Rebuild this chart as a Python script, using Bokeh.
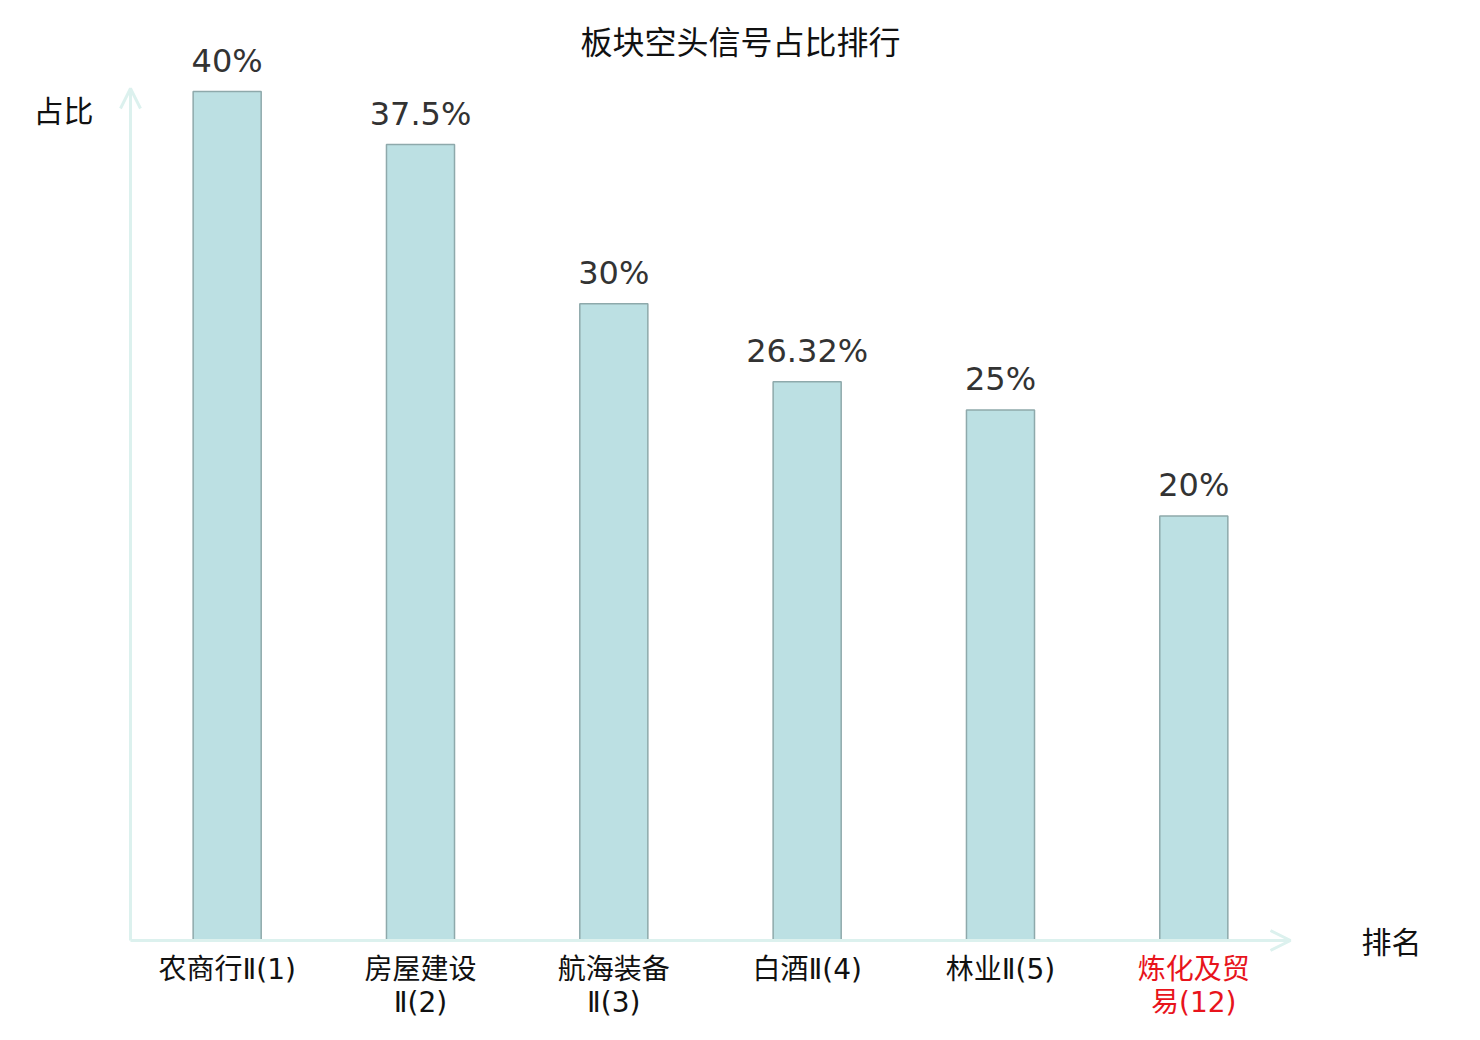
from bokeh.plotting import figure
from bokeh.models import Range1d, Arrow, OpenHead, ColumnDataSource
from bokeh.core.properties import value
from bokeh.embed import file_html
from bokeh.resources import INLINE
import numpy as np

categories = ["农商行Ⅱ(1)", "房屋建设\nⅡ(2)", "航海装备\nⅡ(3)", "白酒Ⅱ(4)", "林业Ⅱ(5)", "炼化及贸\n易(12)"]
values = [40, 37.5, 30, 26.32, 25, 20]
value_labels = ["40%", "37.5%", "30%", "26.32%", "25%", "20%"]
label_colors = ["#111111", "#111111", "#111111", "#111111", "#111111", "#e8141c"]
title_text = "板块空头信号占比排行"
y_name = "占比"
x_name = "排名"

W, H = 1464, 1024
# layout: category axis origin at page x=130, 193.33 px per category; value 0 at page y=940, 21.225 px per %
PX_U = 193.33
PX_V = 21.225
def ux(px):
    return (px - 130) / PX_U
def vy(py):
    return (940 - py) / PX_V

FONT = "DejaVu Sans, Noto Sans CJK SC, sans-serif"

p = figure(width=W, height=H, output_backend="svg", toolbar_location=None,
           x_range=Range1d(ux(0), ux(W)), y_range=Range1d(vy(H), vy(0)),
           x_axis_location=None, y_axis_location=None, min_border=0)
p.outline_line_color = None
p.xgrid.visible = False
p.ygrid.visible = False
p.background_fill_color = "white"

xs = np.arange(len(categories)) + 0.5
src = ColumnDataSource(dict(x=xs, top=values, vl=value_labels, cat=categories, col=label_colors,
                            zero=[0] * len(values)))

# axes with arrows
axis_color = "#dcf1ee"
p.add_layout(Arrow(end=OpenHead(size=20, line_color=axis_color, line_width=3),
                   x_start=0, y_start=0, x_end=0, y_end=vy(88),
                   line_color=axis_color, line_width=3))
p.add_layout(Arrow(end=OpenHead(size=20, line_color=axis_color, line_width=3),
                   x_start=0, y_start=0, x_end=ux(1290), y_end=0,
                   line_color=axis_color, line_width=3))

p.vbar(x="x", top="top", bottom=0, width=0.352, source=src,
       fill_color="#bce0e3", line_color="#8ea9ab", line_width=1.5)

p.text(x="x", y="top", text="vl", source=src, text_align="center", text_baseline="bottom",
       y_offset=-12, text_font_size="32px", text_color="#333333", text_font=value(FONT))

p.text(x="x", y="zero", text="cat", source=src, text_align="center", text_baseline="top",
       y_offset=12, text_font_size="28px", text_color="col", text_line_height=1.0,
       text_font=value(FONT))

p.text(x=[ux(740)], y=[vy(42)], text=[title_text], text_align="center", text_baseline="middle",
       text_font_size="32px", text_color="#111111", text_font=value(FONT))
p.text(x=[ux(63)], y=[vy(111)], text=[y_name], text_align="center", text_baseline="middle",
       text_font_size="30px", text_color="#111111", text_font=value(FONT))
p.text(x=[ux(1391)], y=[vy(942)], text=[x_name], text_align="center", text_baseline="middle",
       text_font_size="30px", text_color="#111111", text_font=value(FONT))

open("out.html", "w").write(file_html(p, INLINE))
